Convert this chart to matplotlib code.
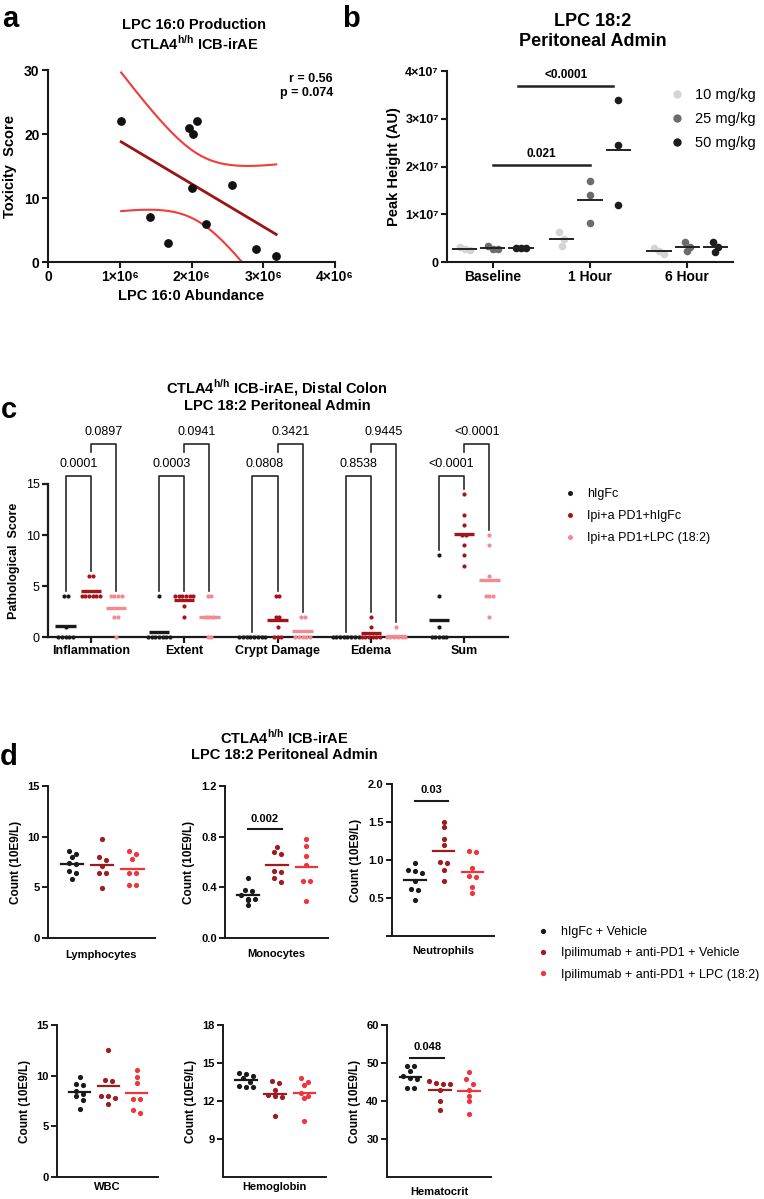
import numpy as np
import matplotlib.pyplot as plt
from matplotlib.lines import Line2D

plt.rcParams['font.family'] = ['Liberation Sans', 'DejaVu Sans']
plt.rcParams['mathtext.fontset'] = 'custom'
plt.rcParams['mathtext.rm'] = 'Liberation Sans'
plt.rcParams['mathtext.bf'] = 'Liberation Sans:bold'

# ---- panel a : LPC 16:0 vs toxicity ----
lpc160 = np.array([1.02, 1.42, 1.67, 1.97, 2.02, 2.08, 2.00, 2.20, 2.57, 2.90, 3.18]) * 1e6
tox = np.array([22, 7, 3, 21, 20, 22, 11.5, 6, 12, 2, 1])

# ---- panel b : LPC 18:2 peak height (x1e7) ----
times = ['Baseline', '1 Hour', '6 Hour']
doses = ['10 mg/kg', '25 mg/kg', '50 mg/kg']
peak_10 = [[0.25, 0.31, 0.27], [0.62, 0.34, 0.48], [0.16, 0.30, 0.23]]
peak_25 = [[0.27, 0.33, 0.28], [1.69, 1.41, 0.82], [0.42, 0.23, 0.31]]
peak_50 = [[0.29, 0.30, 0.30], [3.39, 2.45, 1.20], [0.42, 0.21, 0.31]]

# ---- panel c : pathological scores ----
c_cats = ['Inflammation', 'Extent', 'Crypt Damage', 'Edema', 'Sum']
c_groups = ['hIgFc', 'Ipi+a PD1+hIgFc', 'Ipi+a PD1+LPC (18:2)']
c_higfc = [[4, 4, 1, 0, 0, 0, 0, 0], [4, 0, 0, 0, 0, 0, 0, 0], [0] * 8, [0] * 8,
           [8, 4, 1, 0, 0, 0, 0, 0]]
c_ipi = [[6, 6, 4, 4, 4, 4, 4, 4], [4, 4, 4, 4, 4, 4, 3, 2], [4, 4, 2, 2, 1, 0, 0, 0],
         [2, 1, 0, 0, 0, 0, 0, 0], [14, 12, 11, 10, 10, 9, 8, 7]]
c_lpc = [[4, 4, 4, 4, 2, 2, 0], [4, 4, 2, 2, 2, 0, 0], [2, 2, 0, 0, 0, 0, 0],
         [1, 0, 0, 0, 0, 0, 0], [10, 9, 6, 4, 4, 4, 2]]
c_p12 = ['0.0001', '0.0003', '0.0808', '0.8538', '<0.0001']
c_p23 = ['0.0897', '0.0941', '0.3421', '0.9445', '<0.0001']

# ---- panel d : blood counts ----
d_groups = ['hIgFc + Vehicle', 'Ipilimumab + anti-PD1 + Vehicle', 'Ipilimumab + anti-PD1 + LPC (18:2)']
d_names = ['Lymphocytes', 'Monocytes', 'Neutrophils', 'WBC', 'Hemoglobin', 'Hematocrit']
lymphocytes = [[8.6, 8.0, 8.3, 7.3, 7.4, 6.6, 6.4, 5.8],
               [9.8, 8.0, 7.7, 7.1, 6.4, 6.4, 4.9],
               [8.6, 8.3, 7.8, 6.4, 6.4, 5.2, 5.2]]
monocytes = [[0.47, 0.37, 0.38, 0.34, 0.31, 0.31, 0.30, 0.26],
             [0.72, 0.68, 0.66, 0.52, 0.53, 0.47, 0.44],
             [0.785, 0.73, 0.65, 0.58, 0.45, 0.45, 0.29]]
neutrophils = [[0.96, 0.87, 0.85, 0.83, 0.72, 0.62, 0.61, 0.48],
               [1.50, 1.43, 1.28, 1.20, 0.96, 0.98, 0.87, 0.72],
               [1.12, 1.10, 0.90, 0.78, 0.79, 0.65, 0.56]]
wbc = [[9.9, 9.1, 9.2, 8.5, 8.0, 8.2, 7.6, 6.7],
       [12.5, 9.6, 9.5, 8.0, 8.0, 7.8, 7.2],
       [10.6, 9.9, 9.3, 7.7, 7.7, 6.6, 6.3]]
hemoglobin = [[14.2, 14.1, 14.0, 13.8, 13.5, 13.1, 13.1, 13.2],
              [13.6, 13.4, 12.9, 12.4, 12.5, 12.3, 10.8],
              [13.8, 13.5, 13.3, 12.6, 12.2, 12.4, 10.4]]
hematocrit = [[49.2, 49.2, 47.9, 46.5, 45.8, 46.0, 43.5, 43.4],
              [45.2, 44.8, 44.6, 44.6, 42.9, 40.0, 37.7],
              [47.7, 45.7, 44.6, 43.0, 41.2, 39.9, 36.7]]
d_data = [lymphocytes, monocytes, neutrophils, wbc, hemoglobin, hematocrit]
d_ylim = [(0, 15), (0, 1.2), (0, 2), (0, 15), (6, 18), (20, 60)]
d_ticks = [[0, 5, 10, 15], [0, 0.4, 0.8, 1.2], [0, 0.5, 1.0, 1.5, 2.0],
           [0, 5, 10, 15], [9, 12, 15, 18], [30, 40, 50, 60]]
d_ticklabels = [['0', '5', '10', '15'], ['0.0', '0.4', '0.8', '1.2'], ['', '0.5', '1.0', '1.5', '2.0'],
                ['0', '5', '10', '15'], ['9', '12', '15', '18'], ['30', '40', '50', '60']]
d_sig = {1: ('0.002', 0.86), 2: ('0.03', 1.78), 5: ('0.048', 51.4)}

W, H = 764, 1199
fig = plt.figure(figsize=(W / 100, H / 100), dpi=100)


def box(x0, y0, x1, y1):
    return [x0 / W, 1 - y1 / H, (x1 - x0) / W, (y1 - y0) / H]


def ftext(x, y, s, **kw):
    fig.text(x / W, 1 - y / H, s, **kw)


def style(ax, lw=1.4):
    for s in ['top', 'right']:
        ax.spines[s].set_visible(False)
    for s in ['left', 'bottom']:
        ax.spines[s].set_linewidth(lw)
        ax.spines[s].set_color('#1a1a1a')
    ax.tick_params(width=lw, length=4, color='#1a1a1a', pad=2)


def swarm(ax, xc, vals, step_px, gap_px):
    # simple column-scatter layout: close values are put side by side
    vals = np.asarray(vals, float)
    disp = ax.transData.transform(np.column_stack([np.full(len(vals), xc), vals]))
    y = disp[:, 1]
    order = np.argsort(-y, kind='stable')
    rows = []
    for i in order:
        if rows and rows[-1][0] - y[i] < gap_px:
            rows[-1][1].append(i)
        else:
            rows.append([y[i], [i]])
    xs = disp[:, 0].copy()
    for _, idx in rows:
        m = len(idx)
        for j, i in enumerate(idx):
            xs[i] += (j - (m - 1) / 2) * step_px
    return ax.transData.inverted().transform(np.column_stack([xs, y]))[:, 0]


# panel letters
for lab, x, y in [('a', 2, 27), ('b', 342, 27), ('c', 1, 418), ('d', 0, 765)]:
    ftext(x, y, lab, fontsize=21, fontweight='bold', ha='left', va='baseline')

# ================= panel a =================
axa = fig.add_axes(box(48, 70, 335, 262))
style(axa, 1.5)
axa.scatter(lpc160, tox, s=28, color='#111111', zorder=3, clip_on=False)
slope, icpt = np.polyfit(lpc160, tox, 1)
n = len(lpc160)
xx = np.linspace(lpc160.min(), lpc160.max(), 200)
yfit = slope * xx + icpt
resid = tox - (slope * lpc160 + icpt)
s_err = np.sqrt(np.sum(resid ** 2) / (n - 2))
se = s_err * np.sqrt(1 / n + (xx - lpc160.mean()) ** 2 / np.sum((lpc160 - lpc160.mean()) ** 2))
t95 = 2.262
axa.plot(xx, yfit, color='#9b1414', lw=2)
axa.plot(xx, yfit + t95 * se, color='#f23b3b', lw=1.5)
axa.plot(xx, yfit - t95 * se, color='#f23b3b', lw=1.5)
axa.set_xlim(0, 4e6)
axa.set_ylim(0, 30)
axa.set_xticks([0, 1e6, 2e6, 3e6, 4e6])
axa.set_xticklabels(['0', '1×10⁶', '2×10⁶', '3×10⁶', '4×10⁶'], fontweight='bold', fontsize=10)
axa.set_yticks([0, 10, 20, 30])
axa.set_yticklabels(['0', '10', '20', '30'], fontweight='bold', fontsize=10)
axa.set_xlabel('LPC 16:0 Abundance', fontweight='bold', fontsize=10.5, labelpad=3)
axa.set_ylabel('Toxicity  Score', fontweight='bold', fontsize=10.5, labelpad=5)
ftext(333, 86, 'r = 0.56\np = 0.074', ha='right', va='center', fontweight='bold', fontsize=9,
      linespacing=1.25)
ftext(194, 25, 'LPC 16:0 Production', ha='center', va='center', fontweight='bold', fontsize=10.5)
ftext(194, 43, r'CTLA4$^{\mathbf{h/h}}$ ICB-irAE', ha='center', va='center', fontweight='bold',
      fontsize=10.5)

# ================= panel b =================
axb = fig.add_axes(box(447, 71, 733, 262))
style(axb, 1.5)
axb.set_xlim(-0.47, 2.47)
axb.set_ylim(0, 4e7)
dose_cols = ['#d4d4d4', '#6b6b6b', '#1c1c1c']
dose_off = [-0.29, 0.0, 0.29]
for k, peak in enumerate([peak_10, peak_25, peak_50]):
    for i, vals in enumerate(peak):
        v = np.array(vals) * 1e7
        xc = i + dose_off[k]
        xs = swarm(axb, xc, v, 5, 8)
        axb.scatter(xs, v, s=30, color=dose_cols[k], zorder=3, linewidths=0)
        axb.plot([xc - 0.12, xc + 0.12], [v.mean()] * 2, color='#222222', lw=1.4, zorder=4)
for (a, b, h, txt) in [(0.0, 1.0, 2.03e7, '0.021'), (0.26, 1.24, 3.69e7, '<0.0001')]:
    axb.plot([a, b], [h, h], color='#222222', lw=1.8, clip_on=False)
    axb.text((a + b) / 2, h + 0.1e7, txt, ha='center', va='bottom', fontweight='bold', fontsize=8.5)
axb.set_xticks(range(3))
axb.set_xticklabels(times, fontweight='bold', fontsize=10)
axb.set_yticks([0, 1e7, 2e7, 3e7, 4e7])
axb.set_yticklabels(['0', '1×10⁷', '2×10⁷', '3×10⁷', '4×10⁷'], fontweight='bold', fontsize=9)
axb.set_ylabel('Peak Height (AU)', fontweight='bold', fontsize=10.5, labelpad=3)
ftext(593, 22, 'LPC 18:2', ha='center', va='center', fontweight='bold', fontsize=13)
ftext(593, 42, 'Peritoneal Admin', ha='center', va='center', fontweight='bold', fontsize=13)
hb = [Line2D([], [], ls='none', marker='o', ms=6, mec='none', mfc=c) for c in dose_cols]
fig.legend(hb, doses, loc='upper left', bbox_to_anchor=(670 / W, 1 - 88 / H), frameon=False,
           fontsize=10.5, handlelength=1.0, handletextpad=0.7, labelspacing=0.7,
           borderpad=0, borderaxespad=0)

# ================= panel c =================
axc = fig.add_axes(box(48, 484, 508, 637))
style(axc, 1.6)
axc.set_xlim(-0.46, 4.47)
axc.set_ylim(0, 15)
c_cols = ['#1a1a1a', '#a3141b', '#f28a8f']
c_off = [-0.27, 0.0, 0.27]
h1, h2 = 15.8, 18.9
for i in range(len(c_cats)):
    tops = []
    for g, grp in enumerate([c_higfc, c_ipi, c_lpc]):
        v = np.array(grp[i], float)
        xc = i + c_off[g]
        xs = swarm(axc, xc, v, 3.7, 3)
        axc.scatter(xs, v, s=9, color=c_cols[g], zorder=4, linewidths=0, clip_on=False)
        axc.plot([xc - 0.11, xc + 0.11], [v.mean()] * 2, color=c_cols[g], lw=2.4, zorder=5,
                 solid_capstyle='butt')
        tops.append(v.max() + 0.5)
    x1, x2, x3 = i + c_off[0], i + c_off[1], i + c_off[2]
    axc.plot([x1, x1, x2, x2], [tops[0], h1, h1, tops[1]], color='#2a2a2a', lw=1.2, clip_on=False)
    axc.plot([x2, x2, x3, x3], [h2 - 0.8, h2, h2, tops[2]], color='#2a2a2a', lw=1.2, clip_on=False)
    axc.text((x1 + x2) / 2, h1 + 0.6, c_p12[i], ha='center', va='bottom', fontsize=9)
    axc.text((x2 + x3) / 2, h2 + 0.6, c_p23[i], ha='center', va='bottom', fontsize=9)
axc.set_xticks(range(len(c_cats)))
axc.set_xticklabels(c_cats, fontweight='bold', fontsize=9)
axc.set_yticks([0, 5, 10, 15])
axc.set_yticklabels(['0', '5', '10', '15'], fontsize=9)
axc.set_ylabel('Pathological  Score', fontweight='bold', fontsize=9, labelpad=4)
ftext(277, 388, r'CTLA4$^{\mathbf{h/h}}$ ICB-irAE, Distal Colon', ha='center', va='center',
      fontweight='bold', fontsize=10.5)
ftext(277, 406, 'LPC 18:2 Peritoneal Admin', ha='center', va='center', fontweight='bold',
      fontsize=10.5)
hc = [Line2D([], [], ls='none', marker='o', ms=3.6, mec='none', mfc=c) for c in c_cols]
fig.legend(hc, c_groups, loc='upper left', bbox_to_anchor=(564 / W, 1 - 488 / H), frameon=False,
           fontsize=9, handlelength=1.0, handletextpad=0.85, labelspacing=0.8,
           borderpad=0, borderaxespad=0)

# ================= panel d =================
d_boxes = [(48, 786, 155, 938), (225, 786, 328, 938), (392, 784, 494, 936),
           (57, 1025, 158, 1177), (223, 1025, 326, 1177), (387, 1025, 491, 1177)]
d_xpad = [9, 8, 7, 3.5, 3.5, 7]
d_cols = ['#1a1a1a', '#9e1b1f', '#f0353a']
for j, name in enumerate(d_names):
    ax = fig.add_axes(box(*d_boxes[j]))
    style(ax, 1.4)
    ax.set_xlim(-0.8, 2.75)
    ax.set_ylim(*d_ylim[j])
    for g in range(3):
        v = np.array(d_data[j][g], float)
        xs = swarm(ax, g, v, 7, 4.5)
        ax.scatter(xs, v, s=14, color=d_cols[g], zorder=3, linewidths=0)
        ax.plot([g - 0.37, g + 0.37], [v.mean()] * 2, color=d_cols[g], lw=1.6, zorder=4)
    if j in d_sig:
        txt, h = d_sig[j]
        ax.plot([0.0, 1.15], [h, h], color='#1a1a1a', lw=1.5)
        ax.text(0.575, h + (d_ylim[j][1] - d_ylim[j][0]) * 0.035, txt, ha='center', va='bottom',
                fontweight='bold', fontsize=8)
    ax.set_xticks([])
    ax.set_yticks(d_ticks[j])
    ax.set_yticklabels(d_ticklabels[j], fontweight='bold', fontsize=8)
    ax.set_xlabel(name, fontweight='bold', fontsize=8, labelpad=d_xpad[j])
    ax.set_ylabel('Count (10E9/L)', fontweight='bold', fontsize=8.5, labelpad=4)
ftext(284, 737, r'CTLA4$^{\mathbf{h/h}}$ ICB-irAE', ha='center', va='center', fontweight='bold',
      fontsize=10.5)
ftext(284, 755, 'LPC 18:2 Peritoneal Admin', ha='center', va='center', fontweight='bold',
      fontsize=10.5)
hd = [Line2D([], [], ls='none', marker='o', ms=3.8, mec='none', mfc=c) for c in d_cols]
fig.legend(hd, d_groups, loc='upper left', bbox_to_anchor=(537 / W, 1 - 926 / H), frameon=False,
           fontsize=9, handlelength=1.0, handletextpad=0.9, labelspacing=0.75,
           borderpad=0, borderaxespad=0)

fig.savefig('out.png', dpi=100)
